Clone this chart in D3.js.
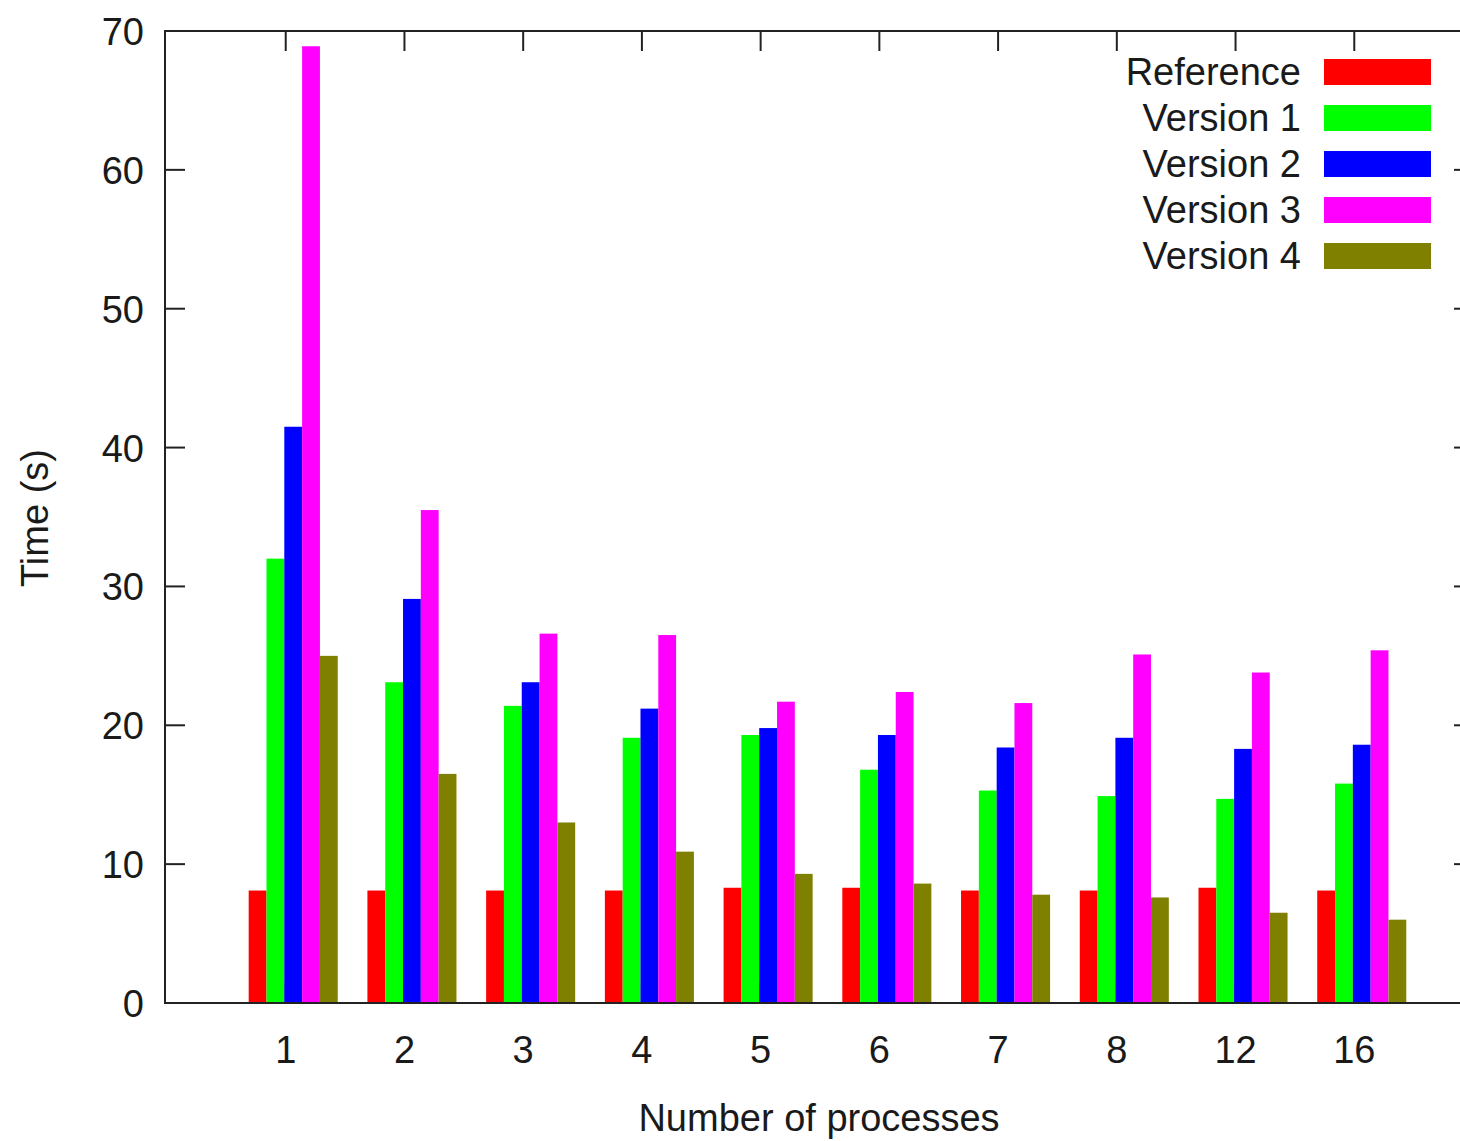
<!DOCTYPE html>
<html>
<head>
<meta charset="utf-8">
<script src="https://cdn.jsdelivr.net/npm/d3@7"></script>
<style>
  html, body { margin: 0; padding: 0; background: #fff; }
  svg { display: block; }
  text { font-family: "Liberation Sans", Arial, sans-serif; fill: #1a1a1a; }
</style>
</head>
<body>
<svg id="chart" width="1460" height="1141"></svg>
<script>
const categories = ["1", "2", "3", "4", "5", "6", "7", "8", "12", "16"];
const seriesNames = ["Reference", "Version 1", "Version 2", "Version 3", "Version 4"];
const seriesColors = ["#ff0000", "#00ff00", "#0000ff", "#ff00ff", "#808000"];
const reference = [8.1, 8.1, 8.1, 8.1, 8.3, 8.3, 8.1, 8.1, 8.3, 8.1];
const version1 = [32.0, 23.1, 21.4, 19.1, 19.3, 16.8, 15.3, 14.9, 14.7, 15.8];
const version2 = [41.5, 29.1, 23.1, 21.2, 19.8, 19.3, 18.4, 19.1, 18.3, 18.6];
const version3 = [68.9, 35.5, 26.6, 26.5, 21.7, 22.4, 21.6, 25.1, 23.8, 25.4];
const version4 = [25.0, 16.5, 13.0, 10.9, 9.3, 8.6, 7.8, 7.6, 6.5, 6.0];
const yTicks = [0, 10, 20, 30, 40, 50, 60, 70];

const seriesValues = [reference, version1, version2, version3, version4];

const svg = d3.select("#chart");
const frame = { left: 165, right: 1474, top: 31, bottom: 1003 };
const x = d3.scaleLinear().domain([0, 11]).range([167, 1473]);
const y = d3.scaleLinear().domain([0, 70]).range([frame.bottom, frame.top]);
const barW = 0.15;
const tickLen = 20;
const axisColor = "#222";

// bottom ticks (drawn under bars)
const gTicks = svg.append("g");
categories.forEach((c, i) => {
  const xp = x(i + 1);
  gTicks.append("line").attr("x1", xp).attr("x2", xp)
    .attr("y1", frame.bottom).attr("y2", frame.bottom - tickLen)
    .attr("stroke", axisColor).attr("stroke-width", 2);
});

// bars
const gBars = svg.append("g");
seriesValues.forEach((vals, j) => {
  gBars.selectAll(null).data(vals).enter().append("rect")
    .attr("x", (d, i) => x(i + 1 + (j - 2.08) * barW))
    .attr("width", (d, i) => x(i + 1 + (j - 1.08) * barW) - x(i + 1 + (j - 2.08) * barW))
    .attr("y", d => y(d))
    .attr("height", d => y(0) - y(d))
    .attr("fill", seriesColors[j]);
});

// top mirror ticks
categories.forEach((c, i) => {
  const xp = x(i + 1);
  svg.append("line").attr("x1", xp).attr("x2", xp)
    .attr("y1", frame.top).attr("y2", frame.top + tickLen)
    .attr("stroke", axisColor).attr("stroke-width", 2);
});

// y ticks left and right
yTicks.forEach(t => {
  svg.append("line").attr("x1", frame.left).attr("x2", frame.left + tickLen)
    .attr("y1", y(t)).attr("y2", y(t)).attr("stroke", axisColor).attr("stroke-width", 2);
  svg.append("line").attr("x1", frame.right - tickLen).attr("x2", frame.right)
    .attr("y1", y(t)).attr("y2", y(t)).attr("stroke", axisColor).attr("stroke-width", 2);
  svg.append("text").attr("x", 144).attr("y", y(t) + 14)
    .attr("text-anchor", "end").attr("font-size", 38).text(t);
});

// x tick labels
categories.forEach((c, i) => {
  svg.append("text").attr("x", x(i + 1)).attr("y", 1063)
    .attr("text-anchor", "middle").attr("font-size", 38).text(c);
});

// frame
svg.append("rect").attr("x", frame.left).attr("y", frame.top)
  .attr("width", frame.right - frame.left).attr("height", frame.bottom - frame.top)
  .attr("fill", "none").attr("stroke", axisColor).attr("stroke-width", 2);

// axis titles
svg.append("text").attr("x", 819).attr("y", 1131)
  .attr("text-anchor", "middle").attr("font-size", 38).text("Number of processes");
svg.append("text").attr("transform", "translate(48,518) rotate(-90)")
  .attr("text-anchor", "middle").attr("font-size", 38).text("Time (s)");

// legend
const legend = svg.append("g");
seriesNames.forEach((name, j) => {
  const cy = 72 + j * 46;
  legend.append("text").attr("x", 1301).attr("y", cy + 13)
    .attr("text-anchor", "end").attr("font-size", 38).text(name);
  legend.append("rect").attr("x", 1324).attr("y", cy - 13)
    .attr("width", 107).attr("height", 26).attr("fill", seriesColors[j]);
});
</script>
</body>
</html>
